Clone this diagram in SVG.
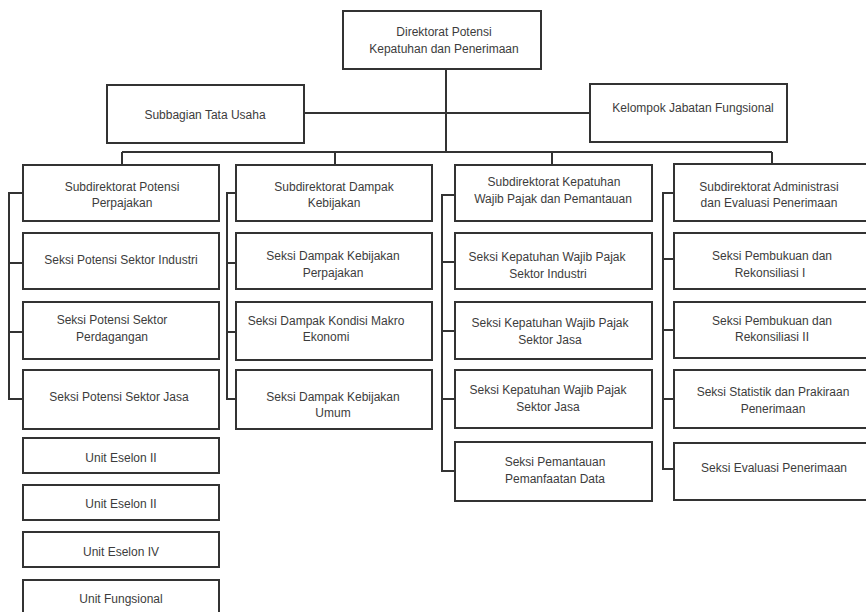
<svg xmlns="http://www.w3.org/2000/svg" width="866" height="612" viewBox="0 0 866 612">
  <style>
    .box { fill: #ffffff; stroke: #333333; stroke-width: 2; }
    .wire { fill: none; stroke: #333333; stroke-width: 2; }
    .lbl { font-family: "Liberation Sans", Arial, sans-serif; font-size: 12px; fill: #3c3c3c; text-anchor: middle; }
  </style>
  <rect x="0" y="0" width="866" height="612" fill="#ffffff"/>

  <!-- connectors -->
  <g id="connectors" class="wire">
    <path d="M446 69 V152"/>
    <path d="M304 113 H590"/>
    <path d="M122 152 H772"/>
    <path d="M122 152 V165 M335 152 V165 M552 152 V165 M772 152 V164"/>
    <!-- column brackets -->
    <path d="M23 193 H9 V399 H23 M9 263 H23 M9 332 H23"/>
    <path d="M236 193 H227 V399 H236 M227 263 H236 M227 332 H236"/>
    <path d="M455 195 H442 V471 H455 M442 262 H455 M442 331 H455 M442 399 H455"/>
    <path d="M674 193 H663 V469 H674 M663 259 H674 M663 330 H674 M663 399 H674"/>
  </g>

  <!-- top level -->
  <g id="direktorat">
    <rect class="box" x="343" y="11" width="198" height="58"/>
    <text class="lbl" x="444" y="36">Direktorat Potensi</text>
    <text class="lbl" x="444" y="53">Kepatuhan dan Penerimaan</text>
  </g>
  <g id="subbagian-tu">
    <rect class="box" x="107" y="85" width="197" height="58"/>
    <text class="lbl" x="205" y="119">Subbagian Tata Usaha</text>
  </g>
  <g id="kelompok-jf">
    <rect class="box" x="590" y="84" width="197" height="58"/>
    <text class="lbl" x="693" y="112">Kelompok Jabatan Fungsional</text>
  </g>

  <!-- column 1 -->
  <g id="subdit-potensi">
    <rect class="box" x="23" y="165" width="196" height="56"/>
    <text class="lbl" x="122" y="191">Subdirektorat Potensi</text>
    <text class="lbl" x="122" y="207">Perpajakan</text>
  </g>
  <g id="seksi-potensi-industri">
    <rect class="box" x="23" y="233" width="196" height="56"/>
    <text class="lbl" x="121" y="264">Seksi Potensi Sektor Industri</text>
  </g>
  <g id="seksi-potensi-perdagangan">
    <rect class="box" x="23" y="302" width="196" height="57"/>
    <text class="lbl" x="112" y="324">Seksi Potensi Sektor</text>
    <text class="lbl" x="112" y="341">Perdagangan</text>
  </g>
  <g id="seksi-potensi-jasa">
    <rect class="box" x="23" y="370" width="196" height="59"/>
    <text class="lbl" x="119" y="401">Seksi Potensi Sektor Jasa</text>
  </g>
  <g id="legend-eselon-2a">
    <rect class="box" x="23" y="438" width="196" height="35"/>
    <text class="lbl" x="121" y="462">Unit Eselon II</text>
  </g>
  <g id="legend-eselon-2b">
    <rect class="box" x="23" y="485" width="196" height="35"/>
    <text class="lbl" x="121" y="508">Unit Eselon II</text>
  </g>
  <g id="legend-eselon-4">
    <rect class="box" x="23" y="532" width="196" height="35"/>
    <text class="lbl" x="121" y="556">Unit Eselon IV</text>
  </g>
  <g id="legend-fungsional">
    <rect class="box" x="23" y="580" width="196" height="40"/>
    <text class="lbl" x="121" y="603">Unit Fungsional</text>
  </g>

  <!-- column 2 -->
  <g id="subdit-dampak">
    <rect class="box" x="236" y="165" width="196" height="56"/>
    <text class="lbl" x="334" y="191">Subdirektorat Dampak</text>
    <text class="lbl" x="334" y="207">Kebijakan</text>
  </g>
  <g id="seksi-dampak-perpajakan">
    <rect class="box" x="236" y="233" width="196" height="56"/>
    <text class="lbl" x="333" y="260">Seksi Dampak Kebijakan</text>
    <text class="lbl" x="333" y="277">Perpajakan</text>
  </g>
  <g id="seksi-dampak-makro">
    <rect class="box" x="236" y="302" width="196" height="58"/>
    <text class="lbl" x="326" y="325">Seksi Dampak Kondisi Makro</text>
    <text class="lbl" x="326" y="341">Ekonomi</text>
  </g>
  <g id="seksi-dampak-umum">
    <rect class="box" x="236" y="370" width="196" height="59"/>
    <text class="lbl" x="333" y="401">Seksi Dampak Kebijakan</text>
    <text class="lbl" x="333" y="417">Umum</text>
  </g>

  <!-- column 3 -->
  <g id="subdit-kepatuhan">
    <rect class="box" x="455" y="165" width="197" height="56"/>
    <text class="lbl" x="554" y="186">Subdirektorat Kepatuhan</text>
    <text class="lbl" x="553" y="203">Wajib Pajak dan Pemantauan</text>
  </g>
  <g id="seksi-kepatuhan-industri">
    <rect class="box" x="455" y="233" width="197" height="56"/>
    <text class="lbl" x="547" y="261">Seksi Kepatuhan Wajib Pajak</text>
    <text class="lbl" x="548" y="278">Sektor Industri</text>
  </g>
  <g id="seksi-kepatuhan-jasa-a">
    <rect class="box" x="455" y="302" width="197" height="57"/>
    <text class="lbl" x="550" y="327">Seksi Kepatuhan Wajib Pajak</text>
    <text class="lbl" x="550" y="344">Sektor Jasa</text>
  </g>
  <g id="seksi-kepatuhan-jasa-b">
    <rect class="box" x="455" y="370" width="197" height="58"/>
    <text class="lbl" x="548" y="394">Seksi Kepatuhan Wajib Pajak</text>
    <text class="lbl" x="548" y="411">Sektor Jasa</text>
  </g>
  <g id="seksi-pemantauan">
    <rect class="box" x="455" y="442" width="197" height="59"/>
    <text class="lbl" x="555" y="466">Seksi Pemantauan</text>
    <text class="lbl" x="555" y="483">Pemanfaatan Data</text>
  </g>

  <!-- column 4 -->
  <g id="subdit-administrasi">
    <rect class="box" x="674" y="164" width="198" height="57"/>
    <text class="lbl" x="769" y="191">Subdirektorat Administrasi</text>
    <text class="lbl" x="769" y="207">dan Evaluasi Penerimaan</text>
  </g>
  <g id="seksi-pembukuan-1">
    <rect class="box" x="674" y="233" width="198" height="56"/>
    <text class="lbl" x="772" y="260">Seksi Pembukuan dan</text>
    <text class="lbl" x="770" y="277">Rekonsiliasi I</text>
  </g>
  <g id="seksi-pembukuan-2">
    <rect class="box" x="674" y="302" width="198" height="56"/>
    <text class="lbl" x="772" y="325">Seksi Pembukuan dan</text>
    <text class="lbl" x="772" y="341">Rekonsiliasi II</text>
  </g>
  <g id="seksi-statistik">
    <rect class="box" x="674" y="370" width="198" height="58"/>
    <text class="lbl" x="773" y="396">Seksi Statistik dan Prakiraan</text>
    <text class="lbl" x="773" y="413">Penerimaan</text>
  </g>
  <g id="seksi-evaluasi">
    <rect class="box" x="674" y="443" width="198" height="57"/>
    <text class="lbl" x="774" y="472">Seksi Evaluasi Penerimaan</text>
  </g>
</svg>
